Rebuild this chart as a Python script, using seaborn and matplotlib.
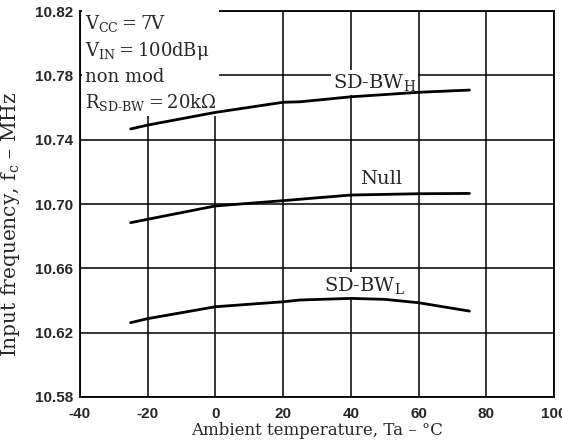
import pandas as pd
import matplotlib.pyplot as plt
import seaborn as sns

# values (temperature in degC, frequency in MHz)
temp_h = [-25, -20, 0, 20, 25, 40, 60, 75]
freq_h = [10.7467, 10.7491, 10.7570, 10.7633, 10.7636, 10.7667, 10.7695, 10.7709]

temp_null = [-25, -20, 0, 20, 40, 60, 75]
freq_null = [10.6884, 10.6905, 10.6988, 10.7021, 10.7056, 10.7064, 10.7066]

temp_l = [-25, -20, 0, 20, 25, 40, 50, 60, 75]
freq_l = [10.6262, 10.6287, 10.6361, 10.6392, 10.6403, 10.6413, 10.6407, 10.6386, 10.6334]

x_ticks = [-40, -20, 0, 20, 40, 60, 80, 100]
y_ticks = [10.58, 10.62, 10.66, 10.70, 10.74, 10.78, 10.82]

curve_names = ['SD-BW$_\\mathregular{H}$', 'Null', 'SD-BW$_\\mathregular{L}$']
label_pos = [(47, 10.7755), (49, 10.7155), (44, 10.6496)]

sns.set_style("white")
plt.rcParams['font.family'] = ['DejaVu Serif']
plt.rcParams['mathtext.fontset'] = 'custom'
plt.rcParams['mathtext.rm'] = 'DejaVu Serif'
plt.rcParams['mathtext.it'] = 'DejaVu Serif:italic'

df = pd.concat([
    pd.DataFrame({'temp': temp_h, 'freq': freq_h, 'curve': 'H'}),
    pd.DataFrame({'temp': temp_null, 'freq': freq_null, 'curve': 'N'}),
    pd.DataFrame({'temp': temp_l, 'freq': freq_l, 'curve': 'L'}),
])

fig, ax = plt.subplots(figsize=(5.62, 4.45), dpi=100)
fig.subplots_adjust(left=0.142, right=0.986, top=0.975, bottom=0.108)

sns.lineplot(data=df, x='temp', y='freq', hue='curve', units='curve', estimator=None,
             palette=['black'] * 3, linewidth=2.0, legend=False, ax=ax, zorder=4)

ax.set_xlim(-40, 100)
ax.set_ylim(10.58, 10.82)
ax.set_xticks(x_ticks)
ax.set_yticks(y_ticks)
ax.set_xticklabels([str(t) for t in x_ticks])
ax.set_yticklabels([f'{t:.2f}' for t in y_ticks])
for lab in ax.get_xticklabels() + ax.get_yticklabels():
    lab.set_family('Liberation Sans')
    lab.set_fontweight('bold')
    lab.set_fontsize(11)
ax.tick_params(axis='x', length=0, pad=7)
ax.tick_params(axis='y', length=0, pad=5)

ax.grid(True, color='black', linewidth=1.1)
ax.set_axisbelow(True)
for sp in ax.spines.values():
    sp.set_color('black')
    sp.set_linewidth(1.3)

ax.set_xlabel('Ambient temperature, Ta – °C', fontsize=12, labelpad=1)
ax.set_ylabel('Input frequency, f$_\\mathregular{c}$ – MHz', fontsize=14.5)
ax.yaxis.set_label_coords(-0.122, 0.447)

for name, (lx, ly) in zip(curve_names, label_pos):
    ax.text(lx, ly, name, fontsize=14, ha='center', va='center', zorder=3,
            bbox=dict(facecolor='white', edgecolor='none', pad=1.5))

cond = ('V$_\\mathregular{CC}$\u2009=\u20097V\n'
        'V$_\\mathregular{IN}$\u2009=\u2009100dBμ\n'
        'non mod\n'
        'R$_\\mathregular{SD\u2010BW}$\u2009=\u200920kΩ')
ax.text(0.01, 0.995, cond, transform=ax.transAxes, fontsize=13, ha='left', va='top',
        linespacing=1.4, zorder=3,
        bbox=dict(facecolor='white', edgecolor='none', pad=2))

plt.savefig('out.png', dpi=100)
plt.close()
